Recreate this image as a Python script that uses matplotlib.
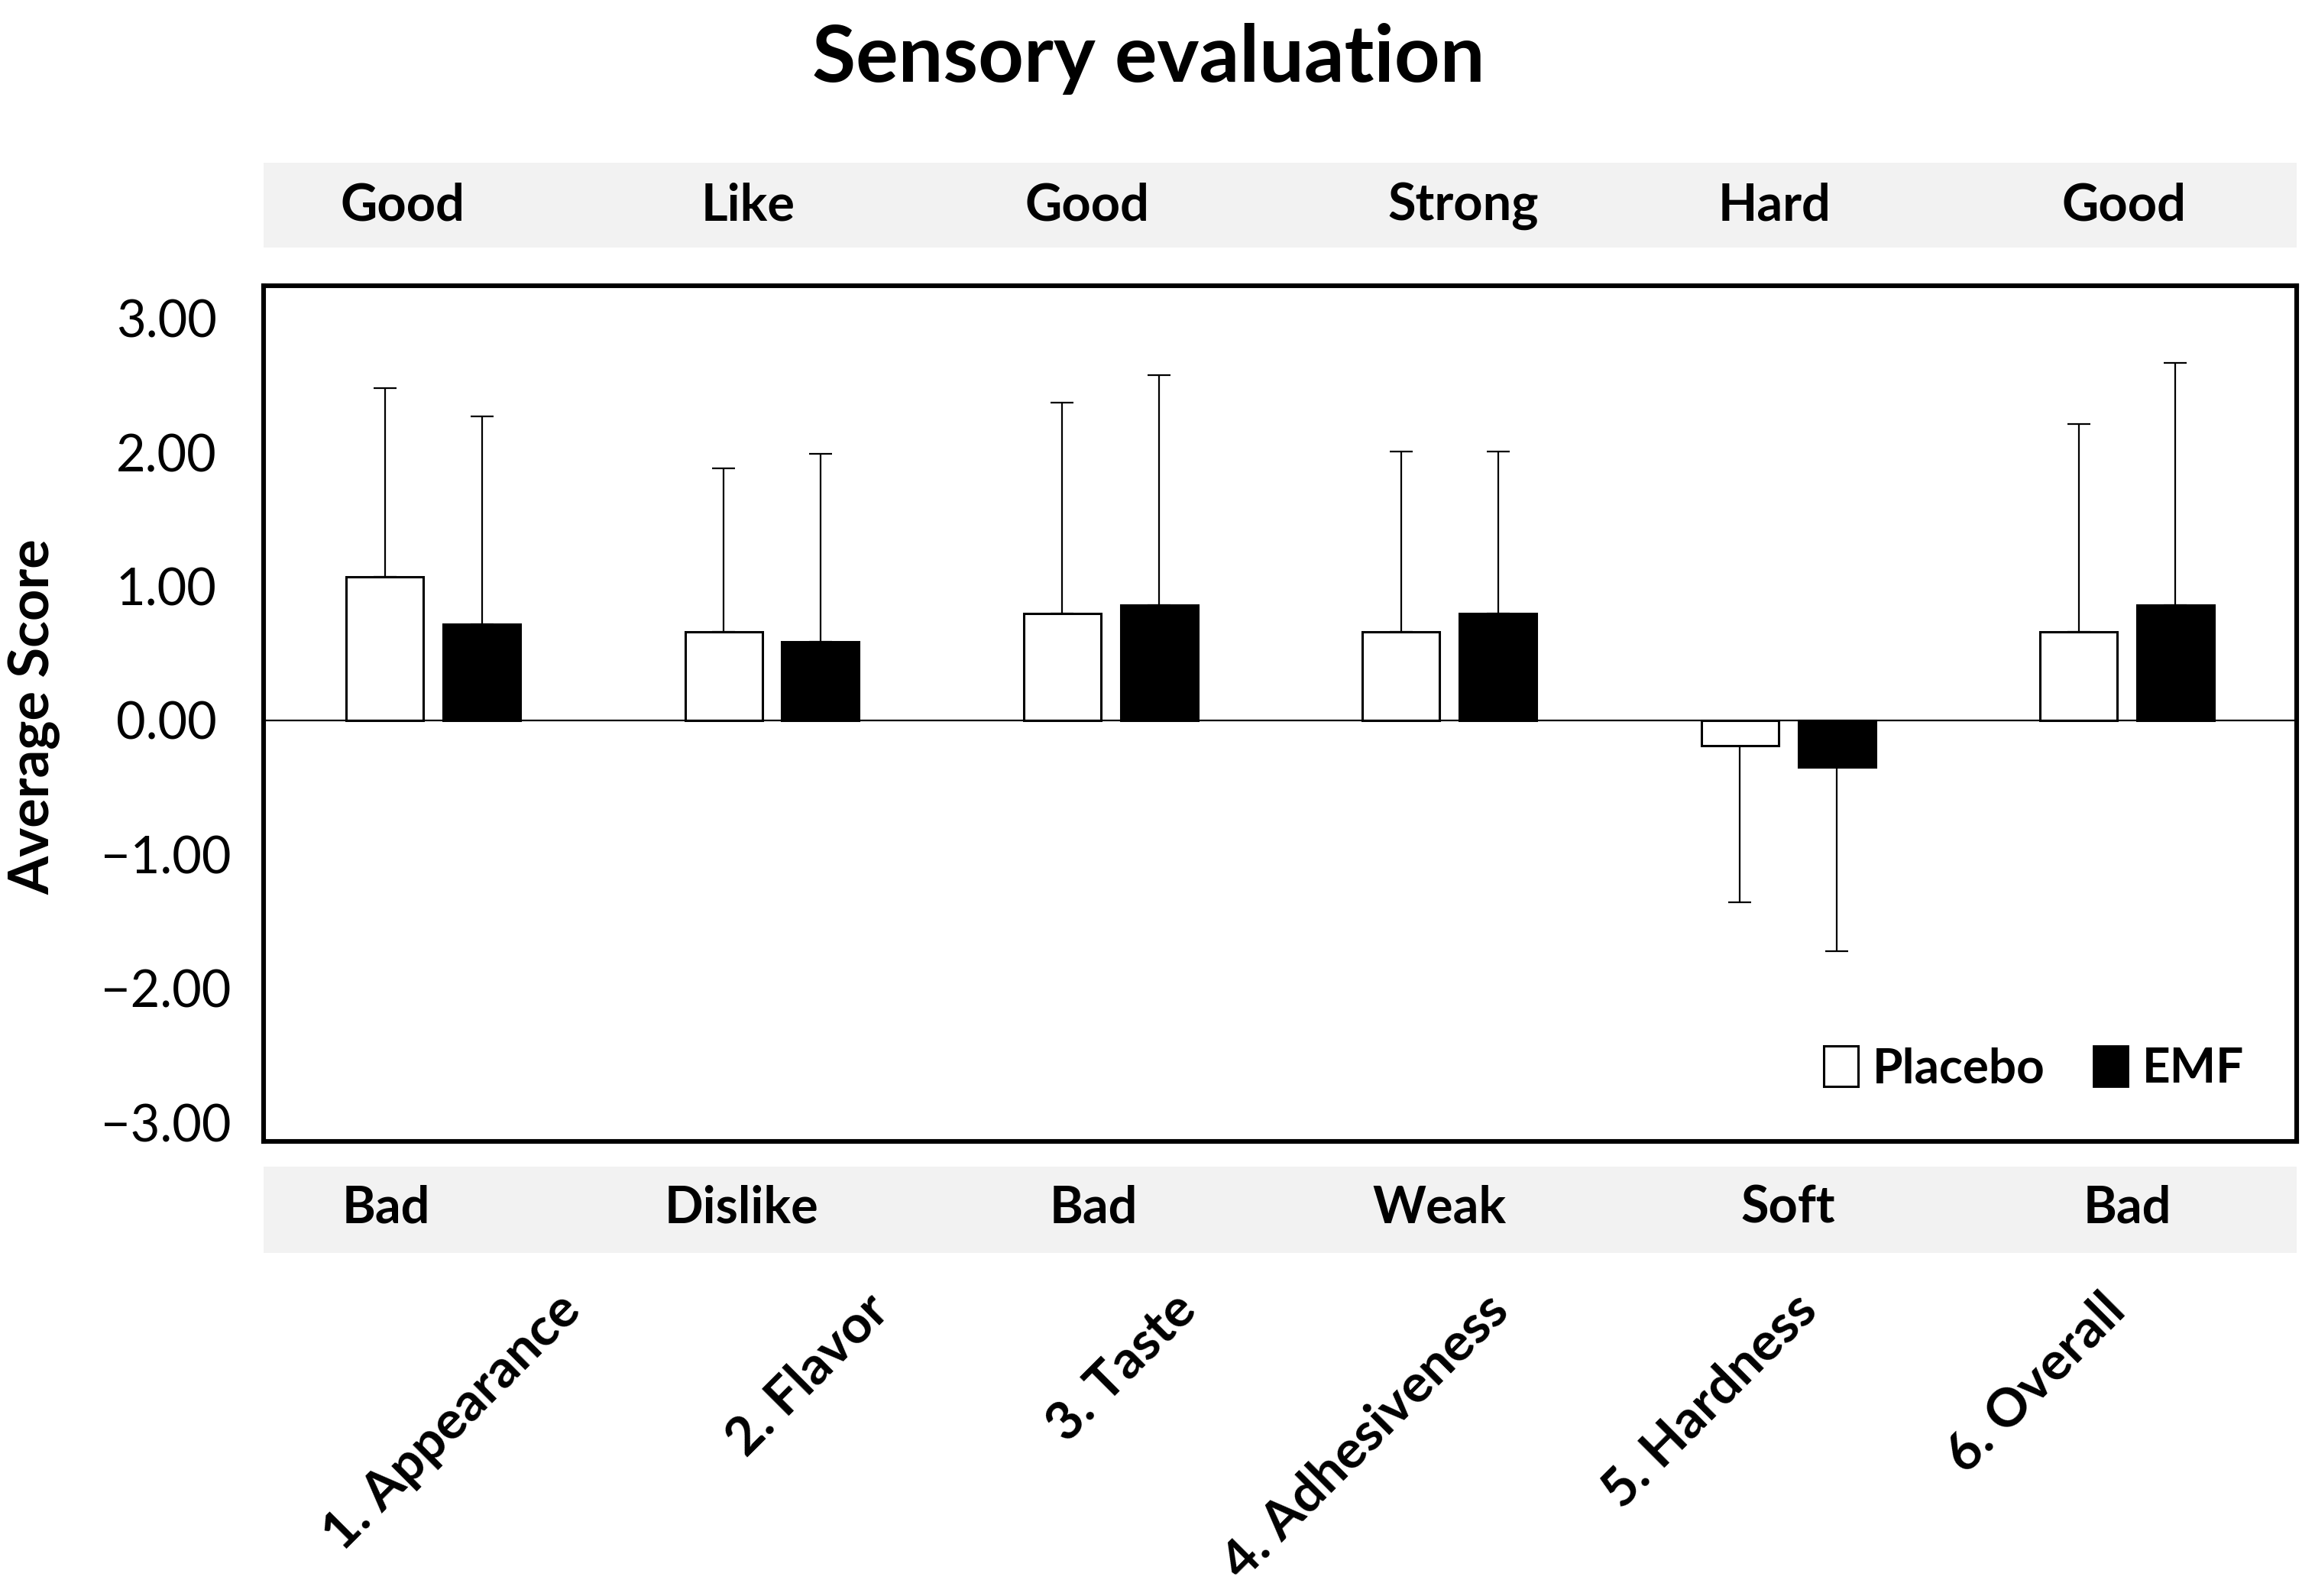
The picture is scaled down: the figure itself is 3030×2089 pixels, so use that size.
import numpy as np
import matplotlib
matplotlib.use("Agg")
from matplotlib import pyplot as plt
from matplotlib import transforms
from matplotlib.patches import Rectangle, Patch
from matplotlib.ticker import FuncFormatter

plt.rcParams['font.family'] = ['Lato', 'DejaVu Sans']

# data
categories = ["1. Appearance", "2. Flavor", "3. Taste", "4. Adhesiveness", "5. Hardness", "6. Overall"]
top_words = ["Good", "Like", "Good", "Strong", "Hard", "Good"]
bottom_words = ["Bad", "Dislike", "Bad", "Weak", "Soft", "Bad"]
placebo_mean = [1.07, 0.66, 0.80, 0.66, -0.19, 0.66]
placebo_sd = [1.41, 1.22, 1.57, 1.35, 1.17, 1.55]
emf_mean = [0.72, 0.59, 0.86, 0.80, -0.35, 0.86]
emf_sd = [1.55, 1.40, 1.72, 1.21, 1.37, 1.81]
yticks = [3, 2, 1, 0, -1, -2, -3]

fig = plt.figure(figsize=(15.15, 10.445), dpi=200)
ax = fig.add_axes([0.114, 0.285, 0.878, 0.536])

x = np.arange(len(categories))
w = 0.228
off = 0.143


def one_sided(means, sds):
    lo = [s if m < 0 else 0 for m, s in zip(means, sds)]
    hi = [s if m >= 0 else 0 for m, s in zip(means, sds)]
    return [lo, hi]


ax.bar(x - off, placebo_mean, w, color="white", edgecolor="black", linewidth=1.1, zorder=2)
ax.bar(x + off, emf_mean, w, color="black", edgecolor="black", linewidth=1.1, zorder=2)
ax.errorbar(x - off, placebo_mean, yerr=one_sided(placebo_mean, placebo_sd), fmt="none",
            ecolor="black", elinewidth=0.8, capsize=5.5, capthick=0.8, zorder=1)
ax.errorbar(x + off, emf_mean, yerr=one_sided(emf_mean, emf_sd), fmt="none",
            ecolor="black", elinewidth=0.8, capsize=5.5, capthick=0.8, zorder=1)
ax.axhline(0, color="black", linewidth=0.8, zorder=3)

ax.set_xlim(-0.5, len(categories) - 0.5)
ax.set_ylim(-3.14, 3.245)
ax.set_xticks([])
ax.set_yticks(yticks)
ax.yaxis.set_major_formatter(FuncFormatter(lambda v, p: f"{v:.2f}".replace("-", "\u2212")))
ax.tick_params(axis="y", length=0, pad=46, labelsize=24)
for lab in ax.get_yticklabels():
    lab.set_horizontalalignment("center")
for s in ax.spines.values():
    s.set_linewidth(2.2)

# grey bands above and below the plot
fig.patches.append(Rectangle((0.114, 0.845), 0.878, 0.053, transform=fig.transFigure,
                             facecolor="#f2f2f2", edgecolor="none", zorder=0))
fig.patches.append(Rectangle((0.114, 0.215), 0.878, 0.054, transform=fig.transFigure,
                             facecolor="#f2f2f2", edgecolor="none", zorder=0))

trans = transforms.blended_transform_factory(ax.transData, fig.transFigure)
top_shift = [-0.09, -0.07, -0.07, 0.04, -0.04, -0.01]
bot_shift = [-0.14, -0.09, -0.05, -0.03, 0.0, 0.0]
label_shift = [0.41, 0.32, 0.23, 0.15, 0.06, -0.03]
for i in range(len(categories)):
    fig.text(x[i] + top_shift[i], 0.871, top_words[i], transform=trans, ha="center", va="center",
             fontsize=24, fontweight="bold")
    fig.text(x[i] + bot_shift[i], 0.243, bottom_words[i], transform=trans, ha="center", va="center",
             fontsize=24, fontweight="bold")
    fig.text(x[i] + label_shift[i], 0.184, categories[i], transform=trans, ha="right", va="center",
             rotation=45, rotation_mode="anchor", fontsize=25, fontweight="bold")

fig.text(0.496, 0.963, "Sensory evaluation", ha="center", va="center", fontsize=37.5, fontweight="bold")
fig.text(0.015, 0.551, "Average Score", rotation=90, ha="center", va="center", fontsize=26, fontweight="bold")

handles = [Patch(facecolor="white", edgecolor="black", linewidth=1.1, label="Placebo"),
           Patch(facecolor="black", edgecolor="black", label="EMF")]
ax.legend(handles=handles, loc="lower right", ncol=2, frameon=False, prop={"size": 23, "weight": "bold"},
          handlelength=0.7, handleheight=0.9, handletextpad=0.3, columnspacing=1.0,
          bbox_to_anchor=(0.996, 0.008))

fig.savefig("out.png", dpi=200, facecolor="white")
